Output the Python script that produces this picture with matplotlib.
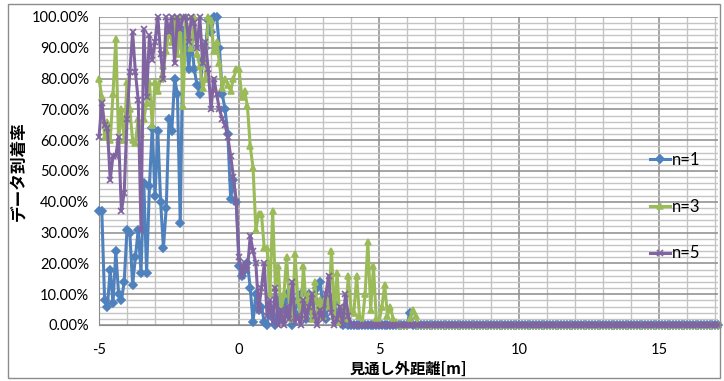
import numpy as np
import matplotlib
matplotlib.use('Agg')
from matplotlib import pyplot as plt
from matplotlib.ticker import MultipleLocator, PercentFormatter
from matplotlib.patches import Rectangle

# 距離 -5.0 m から 0.1 m 刻み
x_start = -5.0
x_step = 0.1

# n=1 (-5.0 .. 6.9)
n1_head = [
    37, 37, 8, 6, 18, 7, 24, 10, 8, 14,
    31, 30, 13, 22, 31, 17, 46, 17, 45, 64,
    42, 63, 40, 25, 38, 67, 63, 80, 75, 33,
    94, 96, 83, 93, 83, 78, 75, 86, 90, 99,
    95, 100, 100, 90, 75, 70, 62, 41, 47, 40,
    19, 16, 18, 20, 12, 1, 10, 5, 6, 1,
    0, 6, 3, 0, 8, 2, 5, 10, 3, 0,
    4, 8, 10, 6, 2, 10, 4, 8, 12, 14,
    5, 2, 9, 6, 7, 3, 1, 0, 2, 0,
    0, 0, 0, 0, 0, 0, 0, 0, 0, 0,
    0, 0, 0, 0, 0, 0, 0, 0, 0, 0,
    0, 4, 0, 0, 0, 0, 0, 0, 0, 0,
]
# n=3
n3_head = [
    80, 74, 61, 66, 60, 75, 93, 60, 70, 60,
    79, 70, 60, 59, 67, 62, 67, 72, 79, 65,
    79, 76, 80, 84, 89, 96, 92, 100, 88, 100,
    71, 100, 94, 90, 100, 88, 84, 77, 80, 100,
    99, 89, 92, 85, 77, 80, 78, 76, 80, 83,
    83, 74, 76, 71, 58, 51, 31, 36, 36, 25,
    25, 10, 37, 12, 19, 4, 10, 22, 6, 2,
    23, 8, 3, 19, 5, 10, 2, 14, 4, 8,
    3, 9, 6, 24, 3, 17, 1, 6, 2, 16,
    5, 4, 16, 3, 1, 10, 27, 5, 19, 2,
    1, 6, 13, 3, 6, 2, 1, 0, 0, 0,
    0, 2, 5, 3, 0, 0, 0, 0, 0, 0,
]
# n=5
n5_head = [
    61, 72, 65, 64, 47, 55, 55, 61, 37, 43,
    67, 82, 95, 82, 73, 31, 96, 74, 94, 86,
    92, 100, 88, 80, 100, 95, 100, 85, 100, 96,
    100, 100, 92, 100, 98, 90, 100, 85, 92, 83,
    70, 80, 75, 70, 67, 65, 61, 55, 48, 40,
    22, 16, 20, 18, 29, 24, 20, 5, 12, 20,
    3, 8, 1, 12, 0, 5, 0, 6, 2, 14,
    1, 3, 0, 8, 2, 6, 10, 3, 0, 5,
    2, 10, 16, 4, 0, 2, 6, 0, 10, 3,
    0, 0, 0, 0, 0, 0, 0, 0, 0, 0,
    0, 0, 0, 0, 0, 0, 0, 0, 0, 0,
    0, 0, 0, 0, 0, 0, 0, 0, 0, 0,
]
# 7.0 .. 17.1 はすべて 0
zero_tail = [
    0, 0, 0, 0, 0, 0, 0, 0, 0, 0,
    0, 0, 0, 0, 0, 0, 0, 0, 0, 0,
    0, 0, 0, 0, 0, 0, 0, 0, 0, 0,
    0, 0, 0, 0, 0, 0, 0, 0, 0, 0,
    0, 0, 0, 0, 0, 0, 0, 0, 0, 0,
    0, 0, 0, 0, 0, 0, 0, 0, 0, 0,
    0, 0, 0, 0, 0, 0, 0, 0, 0, 0,
    0, 0, 0, 0, 0, 0, 0, 0, 0, 0,
    0, 0, 0, 0, 0, 0, 0, 0, 0, 0,
    0, 0, 0, 0, 0, 0, 0, 0, 0, 0,
    0, 0,
]

series_names = ['n=1', 'n=3', 'n=5']
series_values = [n1_head + zero_tail, n3_head + zero_tail, n5_head + zero_tail]
colors = ['#4F81BD', '#9BBB59', '#8064A2']
markers = ['D', '^', 'x']

x = x_start + x_step * np.arange(len(series_values[0]))

plt.rcParams['font.family'] = ['Lato', 'Noto Sans CJK JP', 'DejaVu Sans']
plt.rcParams['axes.unicode_minus'] = False

fig = plt.figure(figsize=(7.24, 3.81), dpi=100)
ax = fig.add_axes([99 / 724, 1 - 325 / 381, (718 - 99) / 724, (325 - 17) / 381])

for name, vals, c, m in zip(series_names, series_values, colors, markers):
    ax.plot(x, vals, color=c, marker=m, markersize=4.5 if m != 'x' else 5,
            markeredgewidth=1.2, lw=2.2, label=name, zorder=3, clip_on=False)

ax.set_xlim(-5, 17.1)
ax.set_ylim(0, 100)
ax.xaxis.set_major_locator(MultipleLocator(5))
ax.xaxis.set_minor_locator(MultipleLocator(1))
ax.yaxis.set_major_locator(MultipleLocator(10))
ax.yaxis.set_minor_locator(MultipleLocator(2))
ax.yaxis.set_major_formatter(PercentFormatter(xmax=100, decimals=2))

ax.grid(which='major', color='#8C8C8C', lw=1.1, zorder=0)
ax.grid(which='minor', color='#C4C4C4', lw=1.0, zorder=0)
ax.set_axisbelow(True)

for s in ['top', 'right']:
    ax.spines[s].set_visible(False)
ax.spines['left'].set_color('#8C8C8C')
ax.spines['bottom'].set_color('#8C8C8C')
ax.tick_params(which='both', length=0)
ax.tick_params(axis='y', labelsize=10.5, pad=7)
ax.tick_params(axis='x', labelsize=10.5, pad=13)

ax.xaxis.set_label_coords((378 - 99) / (718 - 99), -(369 - 325) / (325 - 17))
ax.set_xlabel('見通し外距離[m]', fontsize=11, fontweight='bold',
              family=['Noto Sans CJK JP'], va='center')
ax.yaxis.set_label_coords(-(99 - 18) / (718 - 99), 0.5)
ax.set_ylabel('データ到着率', fontsize=12, fontweight='bold',
              family=['Noto Sans CJK JP'], va='center')

fig.legend(loc='upper left', bbox_to_anchor=(643 / 724, 1 - 145 / 381),
           frameon=False, fontsize=12, labelspacing=1.85, handlelength=1.2,
           handletextpad=0.15, borderaxespad=0)

fig.patches.append(Rectangle((8 / 724, 3 / 381), 712 / 724, 374 / 381,
                             transform=fig.transFigure, fill=False,
                             edgecolor='#8C8C8C', lw=1.0))

fig.savefig('out.png', dpi=100)
